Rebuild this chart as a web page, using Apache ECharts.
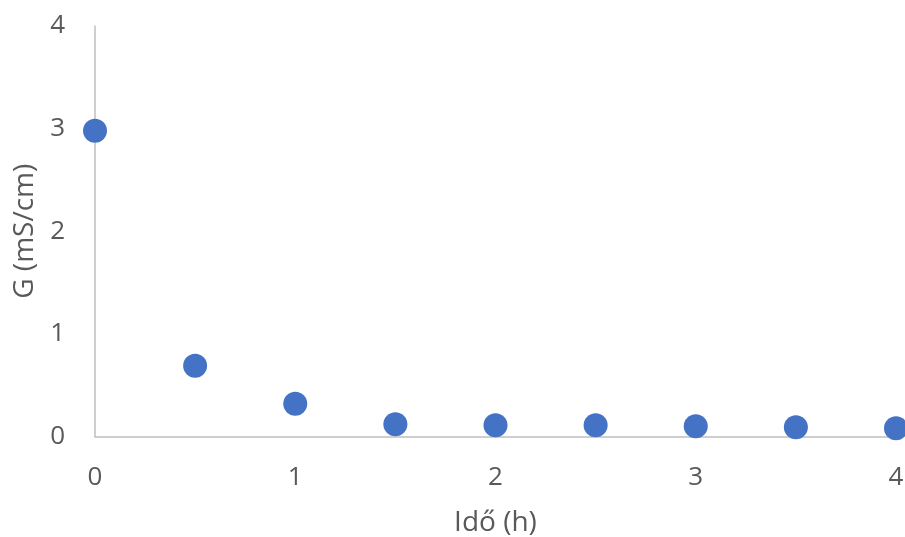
<!DOCTYPE html>
<html>
<head>
<meta charset="utf-8">
<script src="https://cdn.jsdelivr.net/npm/echarts@6/dist/echarts.min.js"></script>
<style>
  html, body { margin: 0; padding: 0; background: #ffffff; }
  #chart { width: 905px; height: 537px; }
</style>
</head>
<body>
<div id="chart"></div>
<script>
// Conductivity over time
const timeHours = [0, 0.5, 1, 1.5, 2, 2.5, 3, 3.5, 4];
const conductivity = [2.98, 0.69, 0.32, 0.12, 0.11, 0.11, 0.10, 0.09, 0.08];
const xAxisName = 'Idő (h)';
const yAxisName = 'G (mS/cm)';

const points = timeHours.map((t, i) => [t, conductivity[i]]);

const labelColor = '#595959';
const fontFamily = '"Open Sans", Lato, sans-serif';
const tickFontSize = 26;
const nameFontSize = 28;

const chart = echarts.init(document.getElementById('chart'));
chart.setOption({
  animation: false,
  backgroundColor: '#ffffff',
  grid: {
    left: 95, right: 9, top: 26, bottom: 100.5,
    containLabel: false,
    outerBoundsMode: 'none'
  },
  xAxis: {
    type: 'value',
    min: 0, max: 4, interval: 1,
    name: xAxisName,
    nameLocation: 'middle',
    nameGap: 72.5,
    nameTextStyle: { color: labelColor, fontSize: nameFontSize, fontFamily },
    axisLine: { show: true, lineStyle: { color: '#bfbfbf', width: 1.5 } },
    axisTick: { show: false },
    splitLine: { show: false },
    axisLabel: { color: labelColor, fontSize: tickFontSize, fontFamily, margin: 28 }
  },
  yAxis: {
    type: 'value',
    min: 0, max: 4, interval: 1,
    name: yAxisName,
    nameLocation: 'middle',
    nameGap: 56,
    nameRotate: 90,
    nameTextStyle: { color: labelColor, fontSize: nameFontSize, fontFamily },
    axisLine: { show: true, lineStyle: { color: '#bfbfbf', width: 1.5 } },
    axisTick: { show: false },
    splitLine: { show: false },
    axisLabel: { color: labelColor, fontSize: tickFontSize, fontFamily, margin: 30 }
  },
  series: [{
    type: 'scatter',
    data: points,
    symbol: 'circle',
    symbolSize: 24,
    itemStyle: { color: '#4472C4', opacity: 1 }
  }]
});
</script>
</body>
</html>
